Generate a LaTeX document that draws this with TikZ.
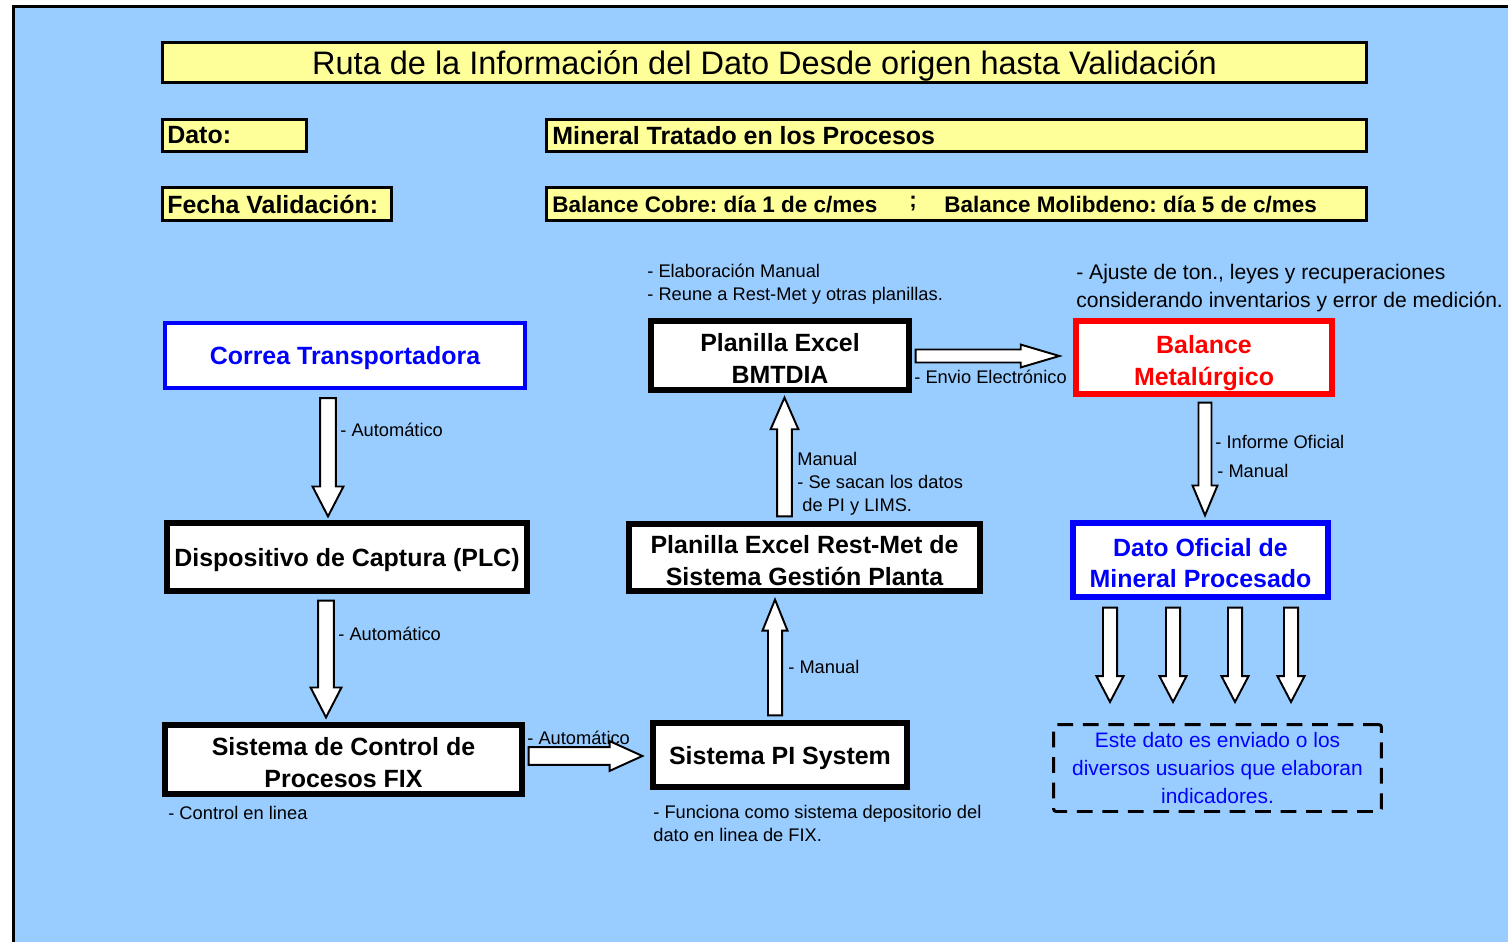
\documentclass[tikz,border=0pt]{standalone}
\usepackage{fontspec}
\setmainfont{Liberation Sans}
\usetikzlibrary{calc}

\definecolor{panelblue}{HTML}{99CCFF}
\definecolor{labelyellow}{HTML}{FFFF99}
\definecolor{inkblue}{HTML}{0000FF}
\definecolor{inkred}{HTML}{FF0000}

% taller first line, lowers two-line box labels slightly
\newcommand\firstline{\rule{0pt}{13.6pt}}

\tikzset{
  % hollow block arrows: half shaft width, half head width, head length
  ba shaft/.store in=\bashaft,
  ba head/.store in=\bahead,
  ba len/.store in=\balen,
  ba shaft=4.5pt, ba head=8.8pt, ba len=17pt,
  blockarrow/.style={draw=black, fill=white, line width=1.1pt, line join=miter},
  ba down/.style={blockarrow, to path={let \p1=(\tikztostart), \p2=(\tikztotarget) in
      (\x1-\bashaft,\y1) -- (\x1-\bashaft,\y2+\balen) -- (\x1-\bahead,\y2+\balen) -- (\x1,\y2)
      -- (\x1+\bahead,\y2+\balen) -- (\x1+\bashaft,\y2+\balen) -- (\x1+\bashaft,\y1) -- cycle}},
  ba up/.style={blockarrow, to path={let \p1=(\tikztostart), \p2=(\tikztotarget) in
      (\x1-\bashaft,\y1) -- (\x1-\bashaft,\y2-\balen) -- (\x1-\bahead,\y2-\balen) -- (\x1,\y2)
      -- (\x1+\bahead,\y2-\balen) -- (\x1+\bashaft,\y2-\balen) -- (\x1+\bashaft,\y1) -- cycle}},
  ba right/.style={blockarrow, to path={let \p1=(\tikztostart), \p2=(\tikztotarget) in
      (\x1,\y1+\bashaft) -- (\x2-\balen,\y1+\bashaft) -- (\x2-\balen,\y1+\bahead) -- (\x2,\y1)
      -- (\x2-\balen,\y1-\bahead) -- (\x2-\balen,\y1-\bashaft) -- (\x1,\y1-\bashaft) -- cycle}},
  headerbox/.style={draw=black, line width=1.7pt, fill=labelyellow, inner sep=0pt},
  headertext/.style={inner sep=0pt, anchor=west, font=\bfseries\fontsize{14.2}{17}\selectfont},
  flowbox/.style={draw=black, line width=3pt, fill=white, inner sep=0pt, align=center,
      text depth=0pt, font=\bfseries\fontsize{14.2}{18.1}\selectfont},
  note/.style={inner sep=0pt, anchor=west, align=left, text height=1.6ex, text depth=.3ex,
      font=\fontsize{10.4}{13}\selectfont},
  multinote/.style={inner sep=0pt, anchor=west, align=left, font=\fontsize{10.4}{13}\selectfont},
}

\begin{document}
\frenchspacing
\begin{tikzpicture}[x=0.02cm, y=-0.02cm]
\useasboundingbox (0,0) rectangle (1508,942);
\clip (0,0) rectangle (1508,942);
\fill[white] (0,0) rectangle (1508,942);
\draw[line width=1.7pt, fill=panelblue] (13.5,6.5) rectangle (1540,980);

% header
\node[headerbox, minimum width=24.08cm, minimum height=0.8cm, text depth=0pt,
      font=\fontsize{18.5}{22}\selectfont] (title) at (764.5,62.5)
      {Ruta de la Información del Dato Desde origen hasta Validación};
\node[headerbox, minimum width=2.88cm, minimum height=0.64cm] (datobox) at (234.5,135.5) {};
\node[headertext] (datotxt) at (167,135.5) {Dato:};
\node[headerbox, minimum width=16.4cm, minimum height=0.64cm] (minbox) at (956.5,135.5) {};
\node[headertext] (mintxt) at (552,135.5) {Mineral Tratado en los Procesos};
\node[headerbox, minimum width=4.58cm, minimum height=0.66cm] (fechabox) at (277,204) {};
\node[headertext] (fechatxt) at (167,204) {Fecha Validación:};
\node[headerbox, minimum width=16.4cm, minimum height=0.66cm] (balbox) at (956.5,204) {};
\node[headertext, font=\bfseries\fontsize{12.8}{15}\selectfont] (cutxt) at (552,204) {Balance Cobre: día 1 de c/mes};
\node[headertext, font=\bfseries\fontsize{12.8}{15}\selectfont] (semitxt) at (909,204) {;};
\node[headertext, font=\bfseries\fontsize{12.8}{15}\selectfont] (motxt) at (944,204) {Balance Molibdeno: día 5 de c/mes};

% process boxes
\node[flowbox, draw=inkblue, line width=2.4pt, text=inkblue, minimum width=7.2cm, minimum height=1.3cm]
     (correa) at (345,355.5) {Correa Transportadora};
\node[flowbox, minimum width=7.2cm, minimum height=1.36cm] (plc) at (347,557) {Dispositivo de Captura (PLC)};
\node[flowbox, minimum width=7.14cm, minimum height=1.38cm] (fix) at (343.5,759.5) {\firstline Sistema de Control de\\Procesos FIX};
\node[flowbox, minimum width=5.08cm, minimum height=1.28cm] (pi) at (780,755) {Sistema PI System};
\node[flowbox, minimum width=7.02cm, minimum height=1.34cm] (restmet) at (804.5,557.5) {\firstline Planilla Excel Rest-Met de\\Sistema Gestión Planta};
\node[flowbox, minimum width=5.16cm, minimum height=1.38cm] (bmtdia) at (780,355.5) {\firstline Planilla Excel\\BMTDIA};
\node[flowbox, draw=inkred, text=inkred, minimum width=5.12cm, minimum height=1.46cm] (balance) at (1204,357.5) {\firstline Balance\\Metalúrgico};
\node[flowbox, draw=inkblue, text=inkblue, minimum width=5.1cm, minimum height=1.48cm] (dof) at (1200.5,560) {\firstline Dato Oficial de\\Mineral Procesado};
\node[draw=black, line width=1.7pt, dash pattern=on 9pt off 5.5pt, rounded corners=1.5pt,
      minimum width=6.56cm, minimum height=1.74cm, inner sep=0pt, align=center, text=inkblue,
      font=\fontsize{11.9}{16.2}\selectfont] (users) at (1217.5,768)
     {Este dato es enviado o los\\diversos usuarios que elaboran\\indicadores.};

% connectors
\draw[ba down] ($(correa.south)+(-17,8)$) to ($(plc.north)+(0,-4)$);
\draw[ba down] ($(plc.south)+(-21,7)$) to ($(fix.north)+(0,-5)$);
\draw[ba right, ba shaft=5.1pt, ba head=8.5pt, ba len=18.7pt] ($(fix.east)+(4,-3.5)$) to ($(pi.west)+(-8,0)$);
\draw[ba up, ba shaft=4pt, ba head=7.1pt, ba len=17.6pt] ($(pi.north)+(-5,-5)$) to ($(restmet.south)+(0,6)$);
\draw[ba up, ba shaft=4.2pt, ba head=7.9pt, ba len=18pt] ($(restmet.north)+(-20,-5)$) to ($(bmtdia.south)+(0,5)$);
\draw[ba right, ba shaft=3.7pt, ba head=6.5pt, ba len=22pt] ($(bmtdia.east)+(4,0.5)$) to ($(balance.west)+(-14,0)$);
\draw[ba down, ba shaft=3.7pt, ba head=7.1pt, ba len=17pt] ($(balance.south)+(1,6)$) to ($(dof.north)+(0,-5)$);

\coordinate (u1) at (1110,702);
\coordinate (u2) at (1173,702);
\coordinate (u3) at (1235,702);
\coordinate (u4) at (1291,702);
\foreach \u in {u1,u2,u3,u4}
  \draw[ba down, ba shaft=4pt, ba head=7.7pt, ba len=14.7pt] ($(dof.south -| \u)+(0,8)$) to (\u);

% annotations
\node[note] (n1) at (340,430) {- Automático};
\node[note] (n2) at (338,634) {- Automático};
\node[note] (n3) at (527,738) {- Automático};
\node[note] (n4) at (168,813) {- Control en linea};
\node[multinote] (n5) at (653,823.5) {- Funciona como sistema depositorio del\\dato en linea de FIX.};
\node[note] (n6) at (788,667) {- Manual};
\node[multinote] (n7) at (797,484) {Manual\\- Se sacan los datos\\\hspace{0.1cm}de PI y LIMS.};
\node[multinote] (n8) at (647,284.5) {- Elaboración Manual\\- Reune a Rest-Met y otras planillas.};
\node[note] (n9) at (914,377) {- Envio Electrónico};
\node[multinote, font=\fontsize{12}{15.9}\selectfont] (n10) at (1076,288)
     {- Ajuste de ton., leyes y recuperaciones\\considerando inventarios y error de medición.};
\node[note] (n11) at (1215,442) {- Informe Oficial};
\node[note] (n12) at (1217,471) {- Manual};
\end{tikzpicture}
\end{document}
